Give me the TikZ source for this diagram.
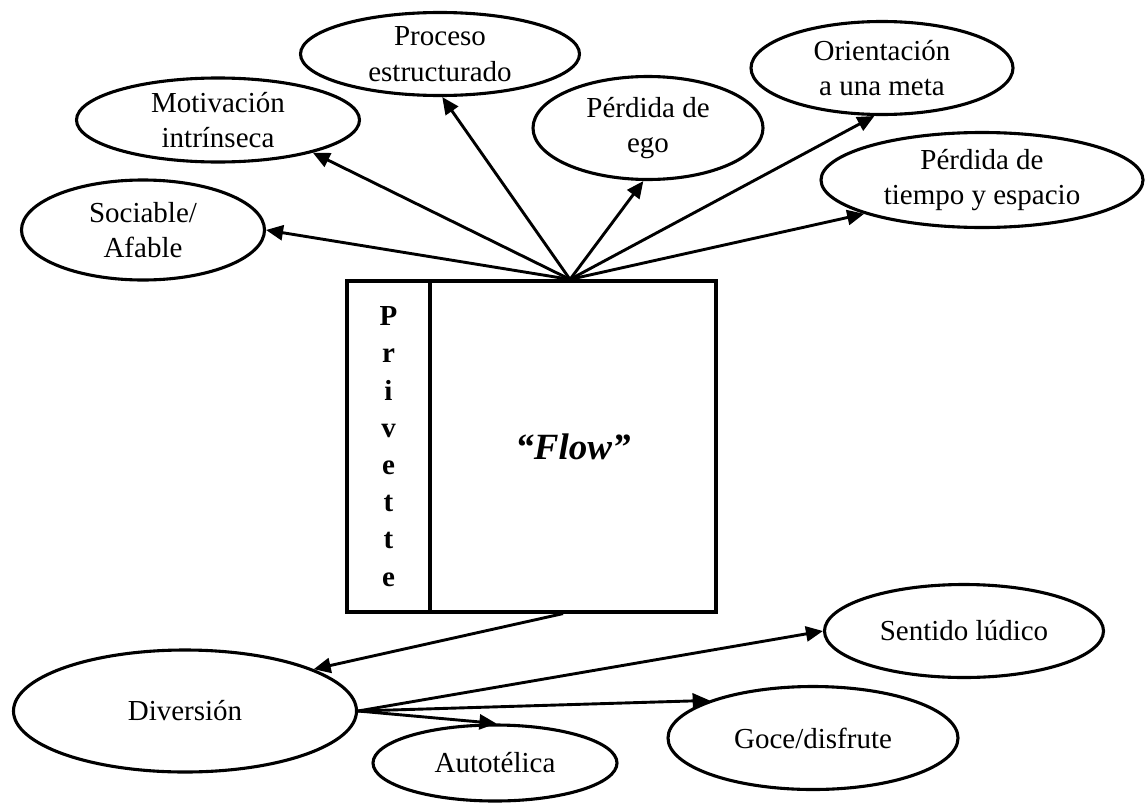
\documentclass[tikz,border=0pt]{standalone}
\usepackage{fontspec}
\setmainfont{Liberation Serif}
\usetikzlibrary{shapes.geometric,arrows.meta}
\begin{document}
\begin{tikzpicture}[x=1pt,y=-1pt,
  bubble/.style={ellipse,draw,line width=3.1pt,inner sep=0pt,align=center,
    font=\fontsize{29}{35.5}\selectfont},
  link/.style={line width=2.9pt,-{Triangle[length=17pt,width=15pt]}},
  panel/.style={rectangle,draw,line width=3.2pt,inner sep=0pt,minimum height=331pt}]
\useasboundingbox (0,0) rectangle (1145,803);

% upper ring of traits
\node[bubble,minimum width=243pt,minimum height=100pt] (soc) at (143,230) {Sociable/\\Afable};
\node[bubble,minimum width=283pt,minimum height=84pt]  (mot) at (218,120) {Motivación\\intrínseca};
\node[bubble,minimum width=279pt,minimum height=83pt]  (pro) at (440,54)  {Proceso\\estructurado};
\node[bubble,minimum width=230pt,minimum height=103pt] (ego) at (648,128) {Pérdida de\\ego};
\node[bubble,minimum width=262pt,minimum height=93pt]  (ori) at (882,68)  {Orientación\\a una meta};
\node[bubble,minimum width=322pt,minimum height=95pt]  (tie) at (982,180) {Pérdida de\\tiempo y espacio};

% central box
\node[panel,minimum width=83pt,align=center,
  font=\fontsize{29}{37.2}\selectfont\bfseries] (priv) at (388.5,446.5)
  {P\\r\\i\\v\\e\\t\\t\\e};
\node[panel,minimum width=286pt,font=\fontsize{37}{45}\selectfont\bfseries\itshape]
  (flow) at (573,446.5) {“Flow”};

% lower group
\node[bubble,minimum width=343pt,minimum height=122pt] (div) at (185,711) {Diversión};
\node[bubble,minimum width=244pt,minimum height=76pt]  (aut) at (495,763) {Autotélica};
\node[bubble,minimum width=279pt,minimum height=93pt]  (sen) at (964,631) {Sentido lúdico};
\node[bubble,minimum width=290pt,minimum height=103pt] (goc) at (813,738) {Goce/disfrute};

\coordinate (hub)  at ([xshift=-3pt]flow.north);
\coordinate (base) at ([xshift=-10pt]flow.south);

\draw[link] (hub) -- (soc.east);
\draw[link] (hub) -- (mot.-19);
\draw[link] (hub) -- (pro.-87);
\draw[link] (hub) -- (ego.-95);
\draw[link] (hub) -- (ori.-99);
\draw[link] (hub) -- (tie.196);

\draw[link] (base) -- (div.18);
\draw[link] (div.east) -- (sen.west);
\draw[link] (div.east) -- (goc.160);
\draw[link] (div.east) -- (aut.88);
\end{tikzpicture}
\end{document}
